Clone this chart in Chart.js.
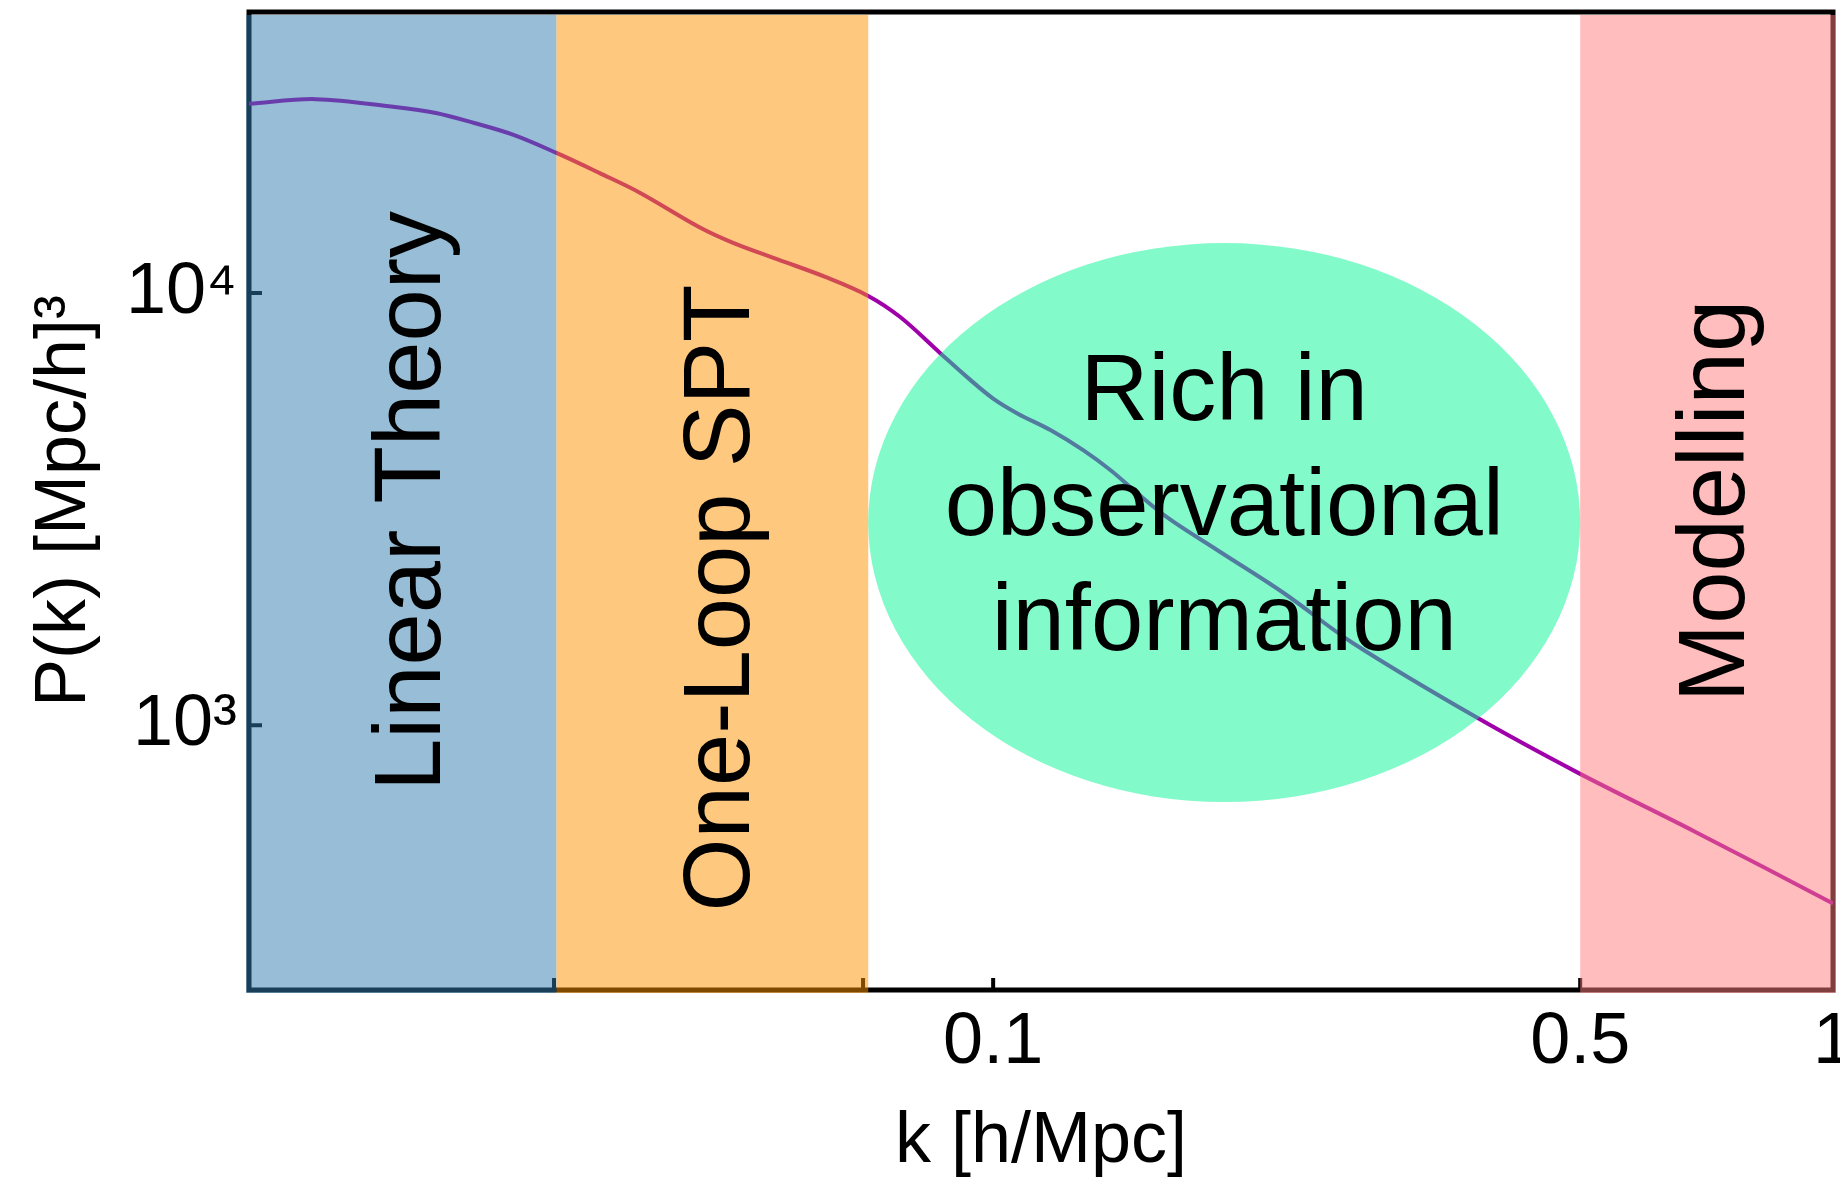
<!DOCTYPE html>
<html>
<head>
<meta charset="utf-8">
<script src="https://cdn.jsdelivr.net/npm/chart.js@4.4.1/dist/chart.umd.min.js"></script>
<style>
  html, body { margin: 0; padding: 0; background: #fff; }
</style>
</head>
<body>
<canvas id="pk" width="1840" height="1183"></canvas>
<script>
// power spectrum
let kValues = [0.0130, 0.0156, 0.0194, 0.0217, 0.0241, 0.0269, 0.0302, 0.0340, 0.0380, 0.0447,
  0.0491, 0.0555, 0.0631, 0.0710, 0.0775, 0.0865, 0.0931, 0.100, 0.107, 0.117,
  0.128, 0.138, 0.147, 0.161, 0.185, 0.222, 0.268, 0.374, 0.496, 0.684, 1.0]
let pValues = [27400, 28100, 26950, 26100, 24750, 23200, 21100, 18950, 17050, 14200,
  13050, 11950, 10900, 9850, 8800, 7260, 6390, 5700, 5260, 4820,
  4330, 3890, 3500, 3030, 2540, 2020, 1550, 1050, 778, 568, 387]

let xRange = [0.013, 1]
let yRange = [244, 44700]
let xTicks = [0.03, 0.07, 0.1, 0.5, 1]
let xTickLabels = ['', '', '0.1', '0.5', '1']
let yTicks = [1000, 10000]
let yTickLabels = ['10³', '10⁴']

// regimes shaded along k
let bandNames = ['Linear Theory', 'One-Loop SPT', 'Modelling']
let bandFrom = [0.013, 0.0302, 0.5]
let bandTo = [0.0302, 0.071, 1]
let bandColours = ['rgba(49,123,173,0.5)', 'rgba(255,145,0,0.5)', 'rgba(255,123,123,0.5)']
let bandTextShift = [0, 97, 0]

let ellipseK = [0.071, 0.5]
let ellipseP = [664, 13050]
let ellipseLines = ['Rich in', 'observational', 'information']

let fontFamily = '"Liberation Sans", Arial, Helvetica, sans-serif'

function drawFrame(chart) {
  let ctx = chart.ctx
  let a = chart.chartArea
  let xs = chart.scales.x
  let ys = chart.scales.y
  ctx.save()
  ctx.strokeStyle = '#000'
  ctx.lineWidth = 5
  ctx.strokeRect(a.left, a.top, a.right - a.left, a.bottom - a.top)
  // ticks point inwards
  ctx.lineWidth = 4
  ctx.beginPath()
  for (let t of xTicks) {
    let x = xs.getPixelForValue(t)
    ctx.moveTo(x, a.bottom)
    ctx.lineTo(x, a.bottom - 12)
  }
  for (let t of yTicks) {
    let y = ys.getPixelForValue(t)
    ctx.moveTo(a.left, y)
    ctx.lineTo(a.left + 13, y)
  }
  ctx.stroke()
  ctx.restore()
}

function drawOverlays(chart) {
  let ctx = chart.ctx
  let a = chart.chartArea
  let xs = chart.scales.x
  let ys = chart.scales.y
  ctx.save()

  for (let i = 0; i < bandNames.length; ++i) {
    let x0 = xs.getPixelForValue(bandFrom[i])
    let x1 = xs.getPixelForValue(bandTo[i])
    if (bandFrom[i] <= xRange[0]) x0 -= 3
    if (bandTo[i] >= xRange[1]) x1 += 3
    ctx.fillStyle = bandColours[i]
    ctx.fillRect(x0, a.top + 3, x1 - x0, a.bottom - a.top)
  }

  let ex0 = xs.getPixelForValue(ellipseK[0])
  let ex1 = xs.getPixelForValue(ellipseK[1])
  let ey0 = ys.getPixelForValue(ellipseP[0])
  let ey1 = ys.getPixelForValue(ellipseP[1])
  let cx = (ex0 + ex1) / 2
  let cy = (ey0 + ey1) / 2
  ctx.fillStyle = 'rgba(5,245,149,0.5)'
  ctx.beginPath()
  ctx.ellipse(cx, cy, Math.abs(ex1 - ex0) / 2, Math.abs(ey1 - ey0) / 2, 0, 0, 2 * Math.PI)
  ctx.fill()

  ctx.fillStyle = '#000'
  ctx.font = '94px ' + fontFamily
  ctx.textAlign = 'center'
  ctx.textBaseline = 'alphabetic'
  for (let i = 0; i < ellipseLines.length; ++i) {
    ctx.fillText(ellipseLines[i], cx, cy - 103 + 115 * i)
  }

  let midY = (a.top + a.bottom) / 2
  for (let i = 0; i < bandNames.length; ++i) {
    let bx = (xs.getPixelForValue(bandFrom[i]) + xs.getPixelForValue(bandTo[i])) / 2
    ctx.save()
    ctx.translate(bx + 37, midY + bandTextShift[i])
    ctx.rotate(-Math.PI / 2)
    ctx.fillText(bandNames[i], 0, 0)
    ctx.restore()
  }
  ctx.restore()
}

let pkPlugin = {
  id: 'pkRegimes',
  beforeDatasetsDraw: drawFrame,
  afterDatasetsDraw: drawOverlays,
}

let tickFont = {family: fontFamily, size: 72}

new Chart(document.getElementById('pk'), {
  type: 'line',
  data: {
    datasets: [{
      data: kValues.map((k, i) => ({x: k, y: pValues[i]})),
      borderColor: '#a000aa',
      borderWidth: 4,
      pointRadius: 0,
      fill: false,
      tension: 0.35,
    }],
  },
  options: {
    responsive: false,
    devicePixelRatio: 1,
    animation: false,
    layout: {
      padding: {top: 12, right: 7, bottom: 0, left: 0},
    },
    plugins: {
      legend: {display: false},
      tooltip: {enabled: false},
    },
    scales: {
      x: {
        type: 'logarithmic',
        min: xRange[0],
        max: xRange[1],
        grid: {display: false, drawTicks: false},
        border: {display: false},
        afterBuildTicks: s => { s.ticks = xTicks.map(v => ({value: v})) },
        afterFit: s => {
          s.height = 193
          s.paddingLeft = 0
          s.paddingRight = 0
        },
        ticks: {
          autoSkip: false,
          maxRotation: 0,
          padding: 10,
          color: '#000',
          font: tickFont,
          callback: v => xTickLabels[xTicks.indexOf(v)],
        },
        title: {
          display: true,
          text: 'k [h/Mpc]',
          color: '#000',
          font: {family: fontFamily, size: 72, lineHeight: 1},
          padding: {top: 0, bottom: 5},
        },
      },
      y: {
        type: 'logarithmic',
        min: yRange[0],
        max: yRange[1],
        grid: {display: false, drawTicks: false},
        border: {display: false},
        afterBuildTicks: s => { s.ticks = yTicks.map(v => ({value: v})) },
        afterFit: s => {
          s.width = 249
          s.paddingTop = 0
          s.paddingBottom = 0
        },
        ticks: {
          autoSkip: false,
          padding: 12,
          color: '#000',
          font: tickFont,
          callback: v => yTickLabels[yTicks.indexOf(v)],
        },
        title: {
          display: true,
          text: 'P(k) [Mpc/h]³',
          color: '#000',
          font: {family: fontFamily, size: 72, lineHeight: 1},
          padding: {top: 29, bottom: 0},
        },
      },
    },
  },
  plugins: [pkPlugin],
})
</script>
</body>
</html>
